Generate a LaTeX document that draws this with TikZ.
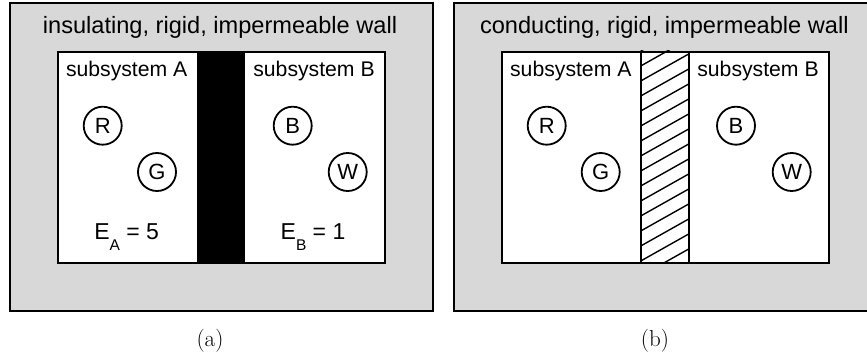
\documentclass[tikz,border=0pt]{standalone}
\usepackage{fontspec}
\setmainfont{Liberation Sans}
\newfontfamily\capfont{Latin Modern Roman}
\definecolor{wallgray}{RGB}{216,216,216}
\begin{document}
\begin{tikzpicture}[x=1pt,y=-1pt,
  outerbox/.style={draw=black,fill=wallgray,line width=2.4pt},
  innerbox/.style={draw=black,fill=white,line width=2.4pt},
  particle/.style={circle,draw=black,line width=1.8pt,minimum size=38pt,inner sep=0pt,font=\fontsize{22}{22}\selectfont},
  titletext/.style={anchor=base,inner sep=0pt,font=\fontsize{23.6}{28}\selectfont},
  subtext/.style={anchor=base,inner sep=0pt,font=\fontsize{21.2}{25}\selectfont},
  energytext/.style={anchor=base,inner sep=0pt,font=\fontsize{23}{27}\selectfont},
  captext/.style={anchor=center,inner sep=0pt,font=\capfont\fontsize{23}{27}\selectfont},
  hatch/.style={line width=1.4pt}]
\useasboundingbox (0,0) rectangle (867,358);
% ---------- panel (a)
\node[outerbox,inner sep=0pt,minimum width=423pt,minimum height=308pt,anchor=north west] (oa) at (8.5,2) {};
\node[innerbox,inner sep=0pt,minimum width=327pt,minimum height=211pt,anchor=north west] (ia) at (57,51) {};
\node[fill=black,inner sep=0pt,minimum width=48pt,minimum height=211pt,anchor=north west] (wa) at (197,51) {};
\node[titletext] (ta) at (220,34) {insulating, rigid, impermeable wall};
\node[subtext] (saA) at (126.7,77) {subsystem A};
\node[subtext] (saB) at (314,77) {subsystem B};
\node[particle] (aR) at (102.7,125.7) {R};
\node[particle] (aG) at (157,172) {G};
\node[particle] (aB) at (292.7,125.7) {B};
\node[particle] (aW) at (347.7,172) {W};
\node[energytext] (eA) at (126.7,240) {E\raisebox{-11pt}{\fontsize{15.5}{15.5}\selectfont A} = 5};
\node[energytext] (eB) at (313,240) {E\raisebox{-11pt}{\fontsize{15.5}{15.5}\selectfont B} = 1};
\node[captext] (capa) at (210,341) {(a)};
% ---------- panel (b)
\node[outerbox,inner sep=0pt,minimum width=423pt,minimum height=308pt,anchor=north west] (ob) at (453,2) {};
\node[innerbox,inner sep=0pt,minimum width=327pt,minimum height=211pt,anchor=north west] (ib) at (501,51) {};
\node[inner sep=0pt,minimum width=48pt,minimum height=211pt,anchor=north west] (wb) at (640.7,51) {};
\begin{scope}
  \clip (wb.north west) rectangle (wb.south east);
  \foreach \k in {0,...,17} {
    \draw[hatch] ([yshift=-\k*15pt]wb.north west) -- ++(48,-27);
  }
\end{scope}
\draw[line width=2.2pt] (wb.north west) -- (wb.south west);
\draw[line width=2.2pt] (wb.north east) -- (wb.south east);
\node[titletext] (tb) at (664.3,34) {conducting, rigid, impermeable wall};
\node[subtext] (sbA) at (570.8,77) {subsystem A};
\node[subtext] (sbB) at (758,77) {subsystem B};
\node[particle] (bR) at (546.7,125.7) {R};
\node[particle] (bG) at (600.7,172) {G};
\node[particle] (bB) at (736,125.7) {B};
\node[particle] (bW) at (791.7,172) {W};
\node[captext] (capb) at (655,341) {(b)};
\end{tikzpicture}
\end{document}
